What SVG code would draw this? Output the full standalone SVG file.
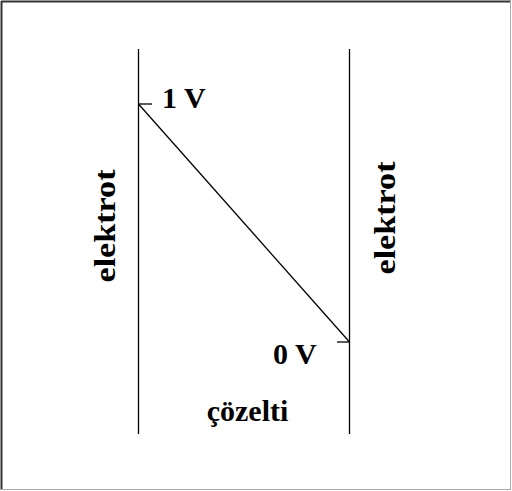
<svg xmlns="http://www.w3.org/2000/svg" width="512" height="491" viewBox="0 0 512 491">
<style>
.t{font-family:"Liberation Serif","Times New Roman",serif;font-weight:bold;font-size:30px;fill:#000}
.ln{stroke:#000;stroke-width:1.3;fill:none}
</style>
<rect width="512" height="491" fill="#fff"/>
<g id="frame">
<line x1="1.5" y1="1" x2="1.5" y2="490" stroke="#333" stroke-width="2"/>
<line x1="1" y1="1.5" x2="511" y2="1.5" stroke="#333" stroke-width="2"/>
<line x1="1" y1="489.5" x2="511" y2="489.5" stroke="#aaa" stroke-width="1"/>
<line x1="510.5" y1="1" x2="510.5" y2="490" stroke="#aaa" stroke-width="1"/>
</g>
<g id="left-electrode">
<line class="ln" x1="138.5" y1="49" x2="138.5" y2="434"/>
<text class="t" transform="translate(115,226) rotate(-90)" text-anchor="middle" textLength="113" lengthAdjust="spacingAndGlyphs">elektrot</text>
</g>
<g id="right-electrode">
<line class="ln" x1="349.5" y1="49" x2="349.5" y2="434"/>
<text class="t" transform="translate(395,218) rotate(-90)" text-anchor="middle" textLength="113" lengthAdjust="spacingAndGlyphs">elektrot</text>
</g>
<g id="connectors">
<line class="ln" x1="138.5" y1="104" x2="152" y2="104"/>
<line class="ln" x1="138.5" y1="104" x2="349.5" y2="342" stroke-width="1"/>
<line class="ln" x1="337" y1="342" x2="349.5" y2="342"/>
</g>
<g id="label-1v"><text class="t" x="162" y="108">1 V</text></g>
<g id="label-0v"><text class="t" x="273" y="364">0 V</text></g>
<g id="label-solution"><text class="t" x="247.5" y="421" text-anchor="middle">çözelti</text></g>
</svg>
